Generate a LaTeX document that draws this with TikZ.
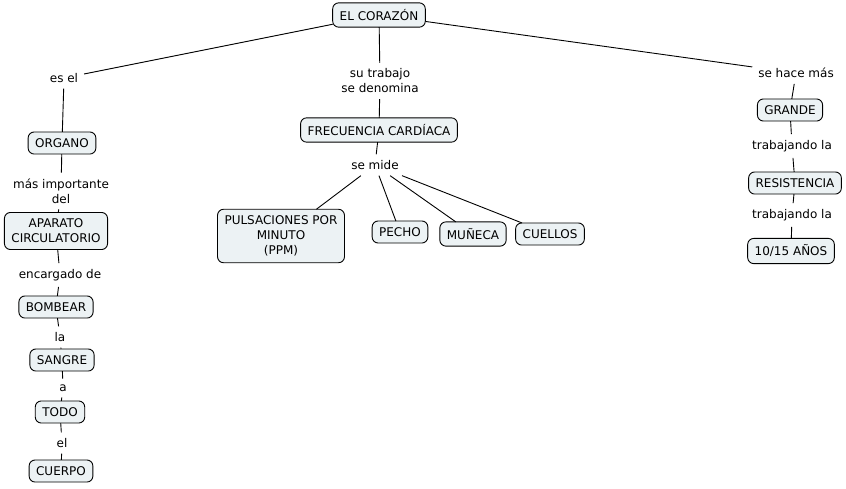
\documentclass[tikz,border=0pt]{standalone}
\usepackage{fontspec}
\setmainfont{DejaVu Sans}
\definecolor{cmapfill}{RGB}{236,242,244}

\begin{document}
\begin{tikzpicture}
		[x=1pt,y=-1pt,
		block/.style ={rectangle, draw=black, line width=0.9pt, fill=cmapfill, rounded corners=6pt, align=center, inner xsep=7pt, inner ysep=6.5pt, outer sep=0pt, font=\fontsize{12}{15}\selectfont},
		link/.style ={align=center, inner sep=1pt, outer sep=5pt, font=\fontsize{12}{15}\selectfont},
		line/.style ={draw, black, line width=0.9pt},
		]
		\useasboundingbox (0,0) rectangle (846,488);

		\draw (379,15) node[block] (HEART) {EL CORAZÓN};

		% left branch
		\draw (64,78) node[link] (L1) {es el};
		\draw (62,143) node[block] (ORG) {ORGANO};
		\draw (61,191) node[link] (L2) {más importante\\del};
		\draw (56,231) node[block] (APC) {APARATO\\CIRCULATORIO};
		\draw (60,275) node[link] (L3) {encargado de};
		\draw (56,307) node[block] (BOM) {BOMBEAR};
		\draw (60,337) node[link] (L4) {la};
		\draw (62,360) node[block] (SAN) {SANGRE};
		\draw (63,388) node[link] (L5) {a};
		\draw (60,412) node[block] (TOD) {TODO};
		\draw (62,443) node[link] (L6) {el};
		\draw (61,471) node[block] (CUE) {CUERPO};

		% middle branch
		\draw (380,81) node[link] (M1) {su trabajo\\se denomina};
		\draw (379,130) node[block] (FC) {FRECUENCIA CARDÍACA};
		\draw (375,165) node[link] (M2) {se mide};
		\draw (281,236) node[block] (PPM) {PULSACIONES POR\\MINUTO\\(PPM)};
		\draw (400,232) node[block] (PEC) {PECHO};
		\draw (473,234) node[block] (MUN) {MUÑECA};
		\draw (550,234) node[block] (CUL) {CUELLOS};

		% right branch
		\draw (796,73) node[link] (R1) {se hace más};
		\draw (790,110) node[block] (GRA) {GRANDE};
		\draw (792,146) node[link] (R2) {trabajando la};
		\draw (795,183) node[block] (RES) {RESISTENCIA};
		\draw (792,215) node[link] (R3) {trabajando la};
		\draw (791,251) node[block] (ANO) {10/15 AÑOS};

		\path[line]
		(HEART) edge (L1)
		(L1) edge (ORG)
		(ORG) edge (L2)
		(L2) edge (APC)
		(APC) edge (L3)
		(L3) edge (BOM)
		(BOM) edge (L4)
		(L4) edge (SAN)
		(SAN) edge (L5)
		(L5) edge (TOD)
		(TOD) edge (L6)
		(L6) edge (CUE)
		(HEART) edge (M1)
		(M1) edge (FC)
		(FC) edge (M2)
		(M2) edge (PPM)
		(M2) edge (PEC)
		(M2) edge (MUN)
		(M2) edge (CUL)
		(HEART) edge (R1)
		(R1) edge (GRA)
		(GRA) edge (R2)
		(R2) edge (RES)
		(RES) edge (R3)
		(R3) edge (ANO);

	\end{tikzpicture}
\end{document}
